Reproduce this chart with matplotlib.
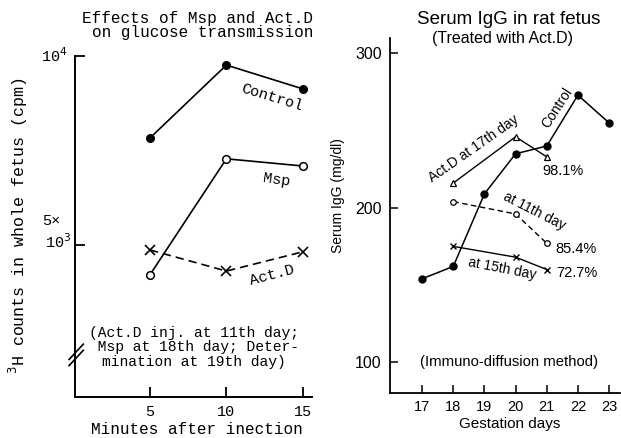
import matplotlib
matplotlib.use("Agg")
import matplotlib.pyplot as plt

# ---- left panel: glucose transmission (cpm) ----
minutes = [5, 10, 15]
control_cpm = [7830, 9760, 9130]
msp_cpm = [4210, 7280, 7090]
actd_cpm = [4870, 4310, 4820]

# ---- right panel: serum IgG (mg/dl) ----
days_control = [17, 18, 19, 20, 21, 22, 23]
igg_control = [154, 162, 209, 235, 240, 273, 255]
days_treated = [18, 20, 21]
igg_act17 = [216, 246, 233]
igg_act11 = [204, 196, 177]
igg_act15 = [175, 168, 160]

W, H = 621, 438
MONO = "Liberation Mono"
SANS = "Liberation Sans"


def fx(x):
    return x / W


def fy(y):
    return 1 - y / H


fig = plt.figure(figsize=(W / 100, H / 100), dpi=100)

# ---------------- left panel ----------------
ax1 = fig.add_axes([fx(75), fy(397), fx(312) - fx(75), fy(56) - fy(397)])
ax1.plot(minutes, control_cpm, "-o", color="black", lw=1.2, ms=5.5,
         mfc="black", mec="black")
ax1.plot(minutes, msp_cpm, "-o", color="black", lw=1.2, ms=5.5,
         mfc="white", mec="black", mew=1.1)
ax1.plot(minutes, actd_cpm, "--x", color="black", lw=1.2, ms=7,
         mew=1.2, dashes=(5, 3))
ax1.set_xlim(0.1, 15.6)
ax1.set_ylim(979, 10000)
ax1.set_xticks(minutes)
ax1.set_xticklabels([str(m) for m in minutes], family=MONO, fontsize=11)
ax1.set_yticks([5000, 10000])
ax1.set_yticklabels(["", ""])
for s in ("top", "right"):
    ax1.spines[s].set_visible(False)
for s in ("left", "bottom"):
    ax1.spines[s].set_linewidth(1.4)
ax1.tick_params(axis="both", direction="in", length=7, width=1.3, pad=6)
ax1.text(-0.03, 1.0, "10$^4$", transform=ax1.transAxes, ha="right",
         va="center", family=MONO, fontsize=11)
ax1.text(-0.06, 0.515, "5×", transform=ax1.transAxes, ha="right",
         va="center", family=MONO, fontsize=11)
ax1.text(-0.015, 0.455, "10$^3$", transform=ax1.transAxes, ha="right",
         va="center", family=MONO, fontsize=11)
# axis break marks
for off in (0.0, 0.018):
    ax1.plot([-0.025, 0.035], [0.092 + off, 0.137 + off], color="black",
             lw=1.2, transform=ax1.transAxes, clip_on=False)

ax1.text(12.97, 8890, "Control", family=MONO, fontsize=11, rotation=-17,
         ha="center", va="center")
ax1.text(13.3, 6720, "Msp", family=MONO, fontsize=11, rotation=-8,
         ha="center", va="center")
ax1.text(12.97, 4200, "Act.D", family=MONO, fontsize=11, rotation=15,
         ha="center", va="center")
ax1.text(7.9, 2300, "(Act.D inj. at 11th day;\n Msp at 18th day; Deter-\nmination at 19th day)",
         family=MONO, fontsize=10.5, ha="center", va="center",
         multialignment="center", linespacing=1.05)

fig.text(fx(313), fy(18), "Effects of Msp and Act.D", family=MONO,
         fontsize=11.5, ha="right", va="center")
fig.text(fx(313), fy(33), "on glucose transmission", family=MONO,
         fontsize=11.5, ha="right", va="center")
fig.text(fx(197), fy(430), "Minutes after inection", family=MONO,
         fontsize=11.5, ha="center", va="center")
fig.text(fx(18), fy(226), "$^3$H counts in whole fetus (cpm)", family=MONO,
         fontsize=12, rotation=90, ha="center", va="center")

# ---------------- right panel ----------------
ax2 = fig.add_axes([fx(390), fy(393), fx(620) - fx(390), fy(38) - fy(393)])
ax2.plot(days_control, igg_control, "-o", color="black", lw=1.1, ms=5,
         mfc="black", mec="black")
ax2.plot(days_treated, igg_act17, "-^", color="black", lw=1.0, ms=5,
         mfc="white", mec="black", mew=0.9)
ax2.plot(days_treated, igg_act11, "--o", color="black", lw=1.0, ms=4,
         mfc="white", mec="black", mew=0.9, dashes=(4, 2.5))
ax2.plot(days_treated, igg_act15, "-x", color="black", lw=1.0, ms=4.5,
         mew=1.0)
ax2.set_xlim(15.97, 23.35)
ax2.set_ylim(80, 310)
ax2.set_xticks(days_control)
ax2.set_xticklabels([str(d) for d in days_control], family=SANS, fontsize=10.5)
ax2.set_yticks([100, 200, 300])
ax2.set_yticklabels(["100", "200", "300"], family=SANS, fontsize=11.5)
for s in ("top", "right"):
    ax2.spines[s].set_visible(False)
for s in ("left", "bottom"):
    ax2.spines[s].set_linewidth(1.3)
ax2.tick_params(axis="both", direction="in", length=6, width=1.1, pad=5)
ax2.tick_params(axis="y", pad=6)
ax2.set_ylabel("Serum IgG (mg/dl)", family=SANS, fontsize=10)
ax2.yaxis.set_label_coords(-0.196, 0.555)

ax2.text(21.32, 265, "Control", family=SANS, fontsize=10, rotation=57,
         ha="center", va="center")
ax2.text(18.65, 238, "Act.D at 17th day", family=SANS, fontsize=10,
         rotation=35, ha="center", va="center")
ax2.text(20.87, 224, "98.1%", family=SANS, fontsize=10.5, ha="left",
         va="center")
ax2.text(20.61, 197.5, "at 11th day", family=SANS, fontsize=10,
         rotation=-27, ha="center", va="center")
ax2.text(21.29, 173.5, "85.4%", family=SANS, fontsize=10.5, ha="left",
         va="center")
ax2.text(19.58, 160.5, "at 15th day", family=SANS, fontsize=10,
         rotation=-11, ha="center", va="center")
ax2.text(21.29, 158, "72.7%", family=SANS, fontsize=10.5, ha="left",
         va="center")
ax2.text(19.8, 100, "(Immuno-diffusion method)", family=SANS, fontsize=10.7,
         ha="center", va="center")

fig.text(fx(509), fy(20), "Serum IgG in rat fetus", family=SANS,
         fontsize=13.5, ha="center", va="center")
fig.text(fx(502), fy(38), "(Treated with Act.D)", family=SANS,
         fontsize=11.5, ha="center", va="center")
fig.text(fx(510), fy(424), "Gestation days", family=SANS, fontsize=11,
         ha="center", va="center")

fig.savefig("out.png", dpi=100)
